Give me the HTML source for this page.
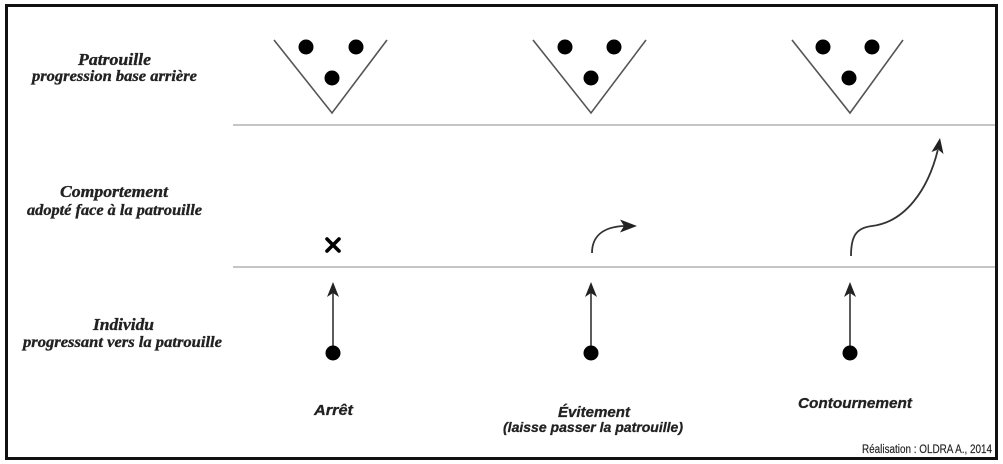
<!DOCTYPE html>
<html>
<head>
<meta charset="utf-8">
<style>
  html, body { margin: 0; padding: 0; background: #fff; }
  body { width: 1003px; height: 464px; overflow: hidden; }
  svg { display: block; }
  .serif { font-family: "Liberation Serif", serif; font-weight: bold; font-style: italic; fill: #222; stroke: #222; stroke-width: 0.35; }
  .sans { font-family: "Liberation Sans", sans-serif; font-weight: bold; font-style: italic; fill: #222; stroke: #222; stroke-width: 0.3; }
  .reg { font-family: "Liberation Sans", sans-serif; fill: #222; stroke: #222; stroke-width: 0.15; }
</style>
</head>
<body>
<svg width="1003" height="464" viewBox="0 0 1003 464" xmlns="http://www.w3.org/2000/svg">
  <rect x="0" y="0" width="1003" height="464" fill="#fff"/>
  <!-- frame -->
  <rect x="6.5" y="5.5" width="990" height="453" fill="none" stroke="#111" stroke-width="3"/>

  <!-- horizontal separators -->
  <line x1="233" y1="125" x2="995" y2="125" stroke="#bdbdbd" stroke-width="1.8"/>
  <line x1="233" y1="267" x2="995" y2="267" stroke="#bdbdbd" stroke-width="1.8"/>

  <!-- left labels -->
  <text class="serif" x="78" y="65" font-size="17" textLength="73" lengthAdjust="spacingAndGlyphs">Patrouille</text>
  <text class="serif" x="32" y="81" font-size="16" textLength="165" lengthAdjust="spacingAndGlyphs">progression base arrière</text>

  <text class="serif" x="60" y="197" font-size="17" textLength="108" lengthAdjust="spacingAndGlyphs">Comportement</text>
  <text class="serif" x="27" y="215" font-size="16" textLength="175" lengthAdjust="spacingAndGlyphs">adopté face à la patrouille</text>

  <text class="serif" x="93" y="330" font-size="17" textLength="61" lengthAdjust="spacingAndGlyphs">Individu</text>
  <text class="serif" x="23" y="347" font-size="16" textLength="199" lengthAdjust="spacingAndGlyphs">progressant vers la patrouille</text>

  <!-- patrol triangles -->
  <g fill="none" stroke="#555" stroke-width="1.6">
    <polyline points="274,40 332,113 387,40"/>
    <polyline points="533,40 591,113 646,40"/>
    <polyline points="792,40 850,113 903,40"/>
  </g>
  <g fill="#000">
    <circle cx="306" cy="47" r="7.5"/>
    <circle cx="356" cy="47" r="7.5"/>
    <circle cx="332" cy="78" r="7.5"/>
    <circle cx="565" cy="47" r="7.5"/>
    <circle cx="614" cy="47" r="7.5"/>
    <circle cx="591" cy="78" r="7.5"/>
    <circle cx="823" cy="47" r="7.5"/>
    <circle cx="872" cy="47" r="7.5"/>
    <circle cx="849" cy="78" r="7.5"/>
  </g>

  <!-- X mark (Arrêt) -->
  <g stroke="#000" stroke-width="3.6" stroke-linecap="round">
    <line x1="327" y1="239" x2="339" y2="251"/>
    <line x1="339" y1="239" x2="327" y2="251"/>
  </g>

  <!-- individual arrows -->
  <g stroke="#333" stroke-width="1.6">
    <line x1="333" y1="346" x2="333" y2="292"/>
    <line x1="591" y1="346" x2="591" y2="292"/>
    <line x1="850" y1="346" x2="850" y2="292"/>
  </g>
  <g fill="#222">
    <polygon points="333,282 339,297 333,293 327,297"/>
    <polygon points="591,282 597,297 591,293 585,297"/>
    <polygon points="850,282 856,297 850,293 844,297"/>
    <circle cx="333" cy="353" r="7.5" fill="#000"/>
    <circle cx="591" cy="353" r="7.5" fill="#000"/>
    <circle cx="850" cy="353" r="7.5" fill="#000"/>
  </g>

  <!-- évitement curve -->
  <path d="M592,253 C592,237 602,227 624,226" fill="none" stroke="#333" stroke-width="1.8"/>
  <polygon points="637,226 620,219.5 624,226 620,232.5" fill="#222"/>

  <!-- contournement curve -->
  <path d="M851,256 C851,236 856,228 872,226 C905,222 928,190 937.8,150" fill="none" stroke="#333" stroke-width="1.8"/>
  <polygon points="940,138 943.5,154 938.1,149.5 931.5,152" fill="#222"/>

  <!-- bottom labels -->
  <text class="sans" x="314" y="415" font-size="15" textLength="39" lengthAdjust="spacingAndGlyphs">Arrêt</text>
  <text class="sans" x="558" y="417" font-size="15" textLength="72" lengthAdjust="spacingAndGlyphs">Évitement</text>
  <text class="sans" x="503" y="432" font-size="14" textLength="180" lengthAdjust="spacingAndGlyphs">(laisse passer la patrouille)</text>
  <text class="sans" x="798" y="408" font-size="15" textLength="114" lengthAdjust="spacingAndGlyphs">Contournement</text>

  <text class="reg" x="862" y="453" font-size="11.5" textLength="130" lengthAdjust="spacingAndGlyphs">Réalisation : OLDRA A., 2014</text>
</svg>
</body>
</html>
